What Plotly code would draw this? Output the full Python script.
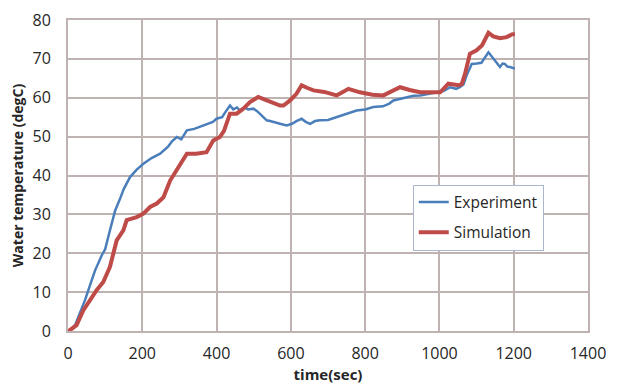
import plotly.graph_objects as go

exp_t = [0, 10, 19, 30, 46, 60, 73, 91, 100, 113, 127, 140, 150, 167, 185, 203, 225, 248, 270, 280, 293, 305, 320, 340, 360, 373, 390, 400, 415, 425, 436, 445, 455, 463, 475, 485, 499, 510, 520, 535, 544, 560, 571, 589, 603, 615, 629, 640, 652, 665, 678, 700, 723, 750, 777, 800, 822, 848, 865, 876, 894, 910, 930, 948, 970, 984, 1011, 1029, 1045, 1055, 1065, 1073, 1087, 1100, 1113, 1132, 1145, 1163, 1170, 1176, 1183, 1190, 1203]
exp_y = [0, 0.5, 1.5, 4, 8, 12, 15.6, 19.5, 21, 25.9, 31, 34, 36.5, 39.6, 41.5, 43, 44.5, 45.6, 47.5, 48.8, 49.9, 49.3, 51.6, 52, 52.8, 53.3, 53.8, 54.6, 55, 56.5, 58, 57, 57.5, 56.7, 57.5, 57, 57.2, 56.5, 55.5, 54.2, 54, 53.5, 53.3, 52.9, 53.3, 54, 54.6, 53.8, 53.3, 54, 54.2, 54.3, 55, 55.9, 56.7, 57, 57.6, 57.8, 58.5, 59.3, 59.7, 60, 60.5, 60.6, 61, 61.4, 61.7, 62.7, 62.3, 62.7, 63.5, 65.7, 68.7, 68.8, 69, 71.7, 70, 67.9, 68.8, 68.7, 68, 67.9, 67.5]

sim_t = [0, 5, 23, 41, 59, 77, 95, 113, 131, 149, 158, 185, 203, 221, 239, 248, 257, 275, 293, 320, 345, 373, 391, 409, 420, 436, 454, 472, 490, 512, 530, 544, 571, 580, 598, 615, 629, 645, 661, 690, 723, 740, 755, 786, 820, 849, 870, 894, 920, 948, 975, 1002, 1024, 1040, 1051, 1060, 1069, 1082, 1100, 1115, 1132, 1145, 1163, 1181, 1195, 1203]
sim_y = [0, 0.2, 1.5, 5.3, 7.9, 10.5, 12.6, 16.5, 23.3, 25.9, 28.5, 29.3, 30.2, 31.9, 32.8, 33.6, 34.4, 38.7, 41.3, 45.6, 45.6, 46, 49, 49.9, 51.5, 55.9, 55.9, 57.2, 58.9, 60.2, 59.5, 58.9, 58, 58, 59.3, 61, 63.2, 62.5, 61.9, 61.5, 60.6, 61.5, 62.3, 61.4, 60.8, 60.6, 61.5, 62.7, 62, 61.4, 61.4, 61.4, 63.6, 63.3, 63.2, 63.5, 66.2, 71.3, 72.2, 73.5, 76.7, 75.8, 75.3, 75.6, 76.3, 76.4]

x_ticks = [0, 200, 400, 600, 800, 1000, 1200, 1400]
y_ticks = [0, 10, 20, 30, 40, 50, 60, 70, 80]

BLUE = "#4a7ebb"
RED = "#be4b48"
GRID = "#bfb3b1"
TXT = "#262626"
FONT = "Open Sans"

fig = go.Figure()
fig.add_trace(go.Scatter(x=exp_t, y=exp_y, mode="lines", name="Experiment",
                         legendgroup="a", line=dict(color=BLUE, width=2.5)))
fig.add_trace(go.Scatter(x=sim_t, y=sim_y, mode="lines", name="Simulation",
                         legendgroup="b", line=dict(color=RED, width=4)))

fig.update_layout(
    width=630, height=385,
    margin=dict(l=68, r=42, t=20, b=54, autoexpand=False),
    paper_bgcolor="white", plot_bgcolor="white",
    font=dict(family=FONT, size=16, color=TXT),
    showlegend=True,
    legend=dict(x=0.663, y=0.471, xanchor="left", yanchor="top",
                bgcolor="white", bordercolor="#a9b6cc", borderwidth=1,
                font=dict(family=FONT, size=15.5, color=TXT),
                tracegroupgap=7, itemwidth=30),
)
fig.update_xaxes(range=[0, 1400], tickvals=x_ticks, ticktext=[str(v) for v in x_ticks],
                 showgrid=True, gridcolor=GRID, gridwidth=2, zeroline=False,
                 showline=True, linecolor=GRID, linewidth=2, mirror=True,
                 ticks="", ticklabelstandoff=7,
                 title=dict(text="<b>time(sec)</b>", font=dict(size=15, color=TXT), standoff=5),
                 automargin=False)
fig.update_yaxes(range=[0, 80], tickvals=y_ticks, ticktext=[str(v) for v in y_ticks],
                 showgrid=True, gridcolor=GRID, gridwidth=2, zeroline=False,
                 showline=True, linecolor=GRID, linewidth=2, mirror=True,
                 ticks="", ticklabelstandoff=12,
                 title=dict(text="<b>Water temperature (degC)</b>", font=dict(size=14, color=TXT), standoff=6),
                 automargin=False)

fig.write_html("out.html")
